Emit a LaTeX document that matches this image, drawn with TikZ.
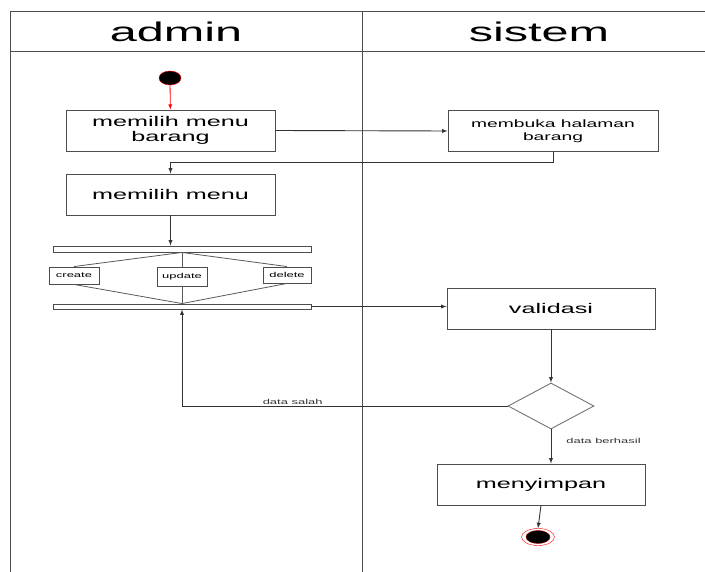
\documentclass[tikz,border=0pt]{standalone}
\usepackage{fontspec}
\setmainfont{Liberation Sans}[FakeStretch=1.8]
\usetikzlibrary{shapes.geometric, arrows}
\tikzstyle{lane} = [draw=black!70, line width=1pt]
\tikzstyle{act} = [draw=black!70, line width=0.9pt, rectangle, minimum width=209pt, minimum height=41pt, inner sep=0pt, align=center, font=\fontsize{14}{15}\selectfont]
\tikzstyle{bar} = [draw=black!70, line width=0.9pt, rectangle, minimum width=258pt, minimum height=6pt, inner sep=0pt]
\tikzstyle{opt} = [draw=black!70, line width=0.9pt, rectangle, minimum width=50pt, minimum height=17pt, inner sep=0pt, font=\fontsize{7.2}{8}\selectfont]
\tikzstyle{lbl} = [font=\fontsize{7.2}{8}\selectfont, inner sep=1pt, text=black!80]
\tikzstyle{flow} = [->, >=latex, black!80, line width=0.9pt]

\begin{document}
\begin{tikzpicture}[x=1pt, y=-1pt]
        \useasboundingbox (0,0) rectangle (705,572);
        % swimlanes
        \draw[lane] (10,572) -- (10,12) -- (705,12);
        \draw[lane] (10,52) -- (705,52);
        \draw[lane] (362,12) -- (362,572);
        \node (admin) at (176,32) {\fontsize{27}{30}\selectfont admin};
        \node (sistem) at (539,32) {\fontsize{27}{30}\selectfont sistem};

        \node (start) [ellipse, draw=red, fill=black, minimum width=22pt, minimum height=14pt, inner sep=0pt] at (170,78) {};
        \node (menu) [act] at (170.5,130.5) {memilih menu\\barang};
        \node (buka) [act, minimum width=210pt, font=\fontsize{10.7}{13}\selectfont] at (553,131) {membuka halaman\\barang};
        \node (pilih) [act] at (170.5,194.5) {memilih menu};
        \node (fork) [bar] at (182,249) {};
        \node (create) [opt] at (74,275.5) {create};
        \node (update) [opt, minimum height=19pt] at (182,276.5) {update};
        \node (delete) [opt, minimum width=48pt, minimum height=16pt] at (287,275) {delete};
        \node (join) [bar, minimum height=5pt] at (182,306.5) {};
        \node (validasi) [act, minimum width=208pt] at (551,308.5) {validasi};
        \node (cek) [diamond, draw=black!55, line width=0.9pt, minimum width=86pt, minimum height=46pt, inner sep=0pt] at (551,406) {};
        \node (simpan) [act, minimum width=208pt] at (541,484.5) {menyimpan};
        \node (endout) [ellipse, draw=red, fill=white, minimum width=33pt, minimum height=17pt, inner sep=0pt] at (538,537) {};
        \node (endin) [ellipse, draw=red!60!black, fill=black, minimum width=24pt, minimum height=13pt, inner sep=0pt] at (538,537) {};

        \draw [->, >=latex, red, line width=0.8pt] (start) -- (menu);
        \draw [flow] (menu.east) -- (buka.west);
        \draw [flow] (buka.south) -- ++(0,11) -| (pilih.north);
        \draw [flow] (pilih.south) -- (pilih.south |- fork.north);
        \draw [black!65, line width=0.8pt] (fork.south) -- (create.north);
        \draw [black!65, line width=0.8pt] (fork.south) -- (update.north);
        \draw [black!65, line width=0.8pt] (fork.south) -- (delete.north);
        \draw [black!65, line width=0.8pt] (create.south) -- (join.north);
        \draw [black!65, line width=0.8pt] (update.south) -- (join.north);
        \draw [black!65, line width=0.8pt] (delete.south) -- (join.north);
        \draw [flow] (join.east) -- (join.east -| validasi.west);
        \draw [flow] (validasi.south) -- (cek.north);
        \draw [flow] (cek.west) -| node[lbl, pos=0.33, above] {data salah} (join.south);
        \draw [flow] (cek.south) -- node[lbl, pos=0.34, anchor=west, xshift=14pt] {data berhasil} (cek.south |- simpan.north);
        \draw [flow] (simpan.south) -- (endout.north);
    \end{tikzpicture}
\end{document}
